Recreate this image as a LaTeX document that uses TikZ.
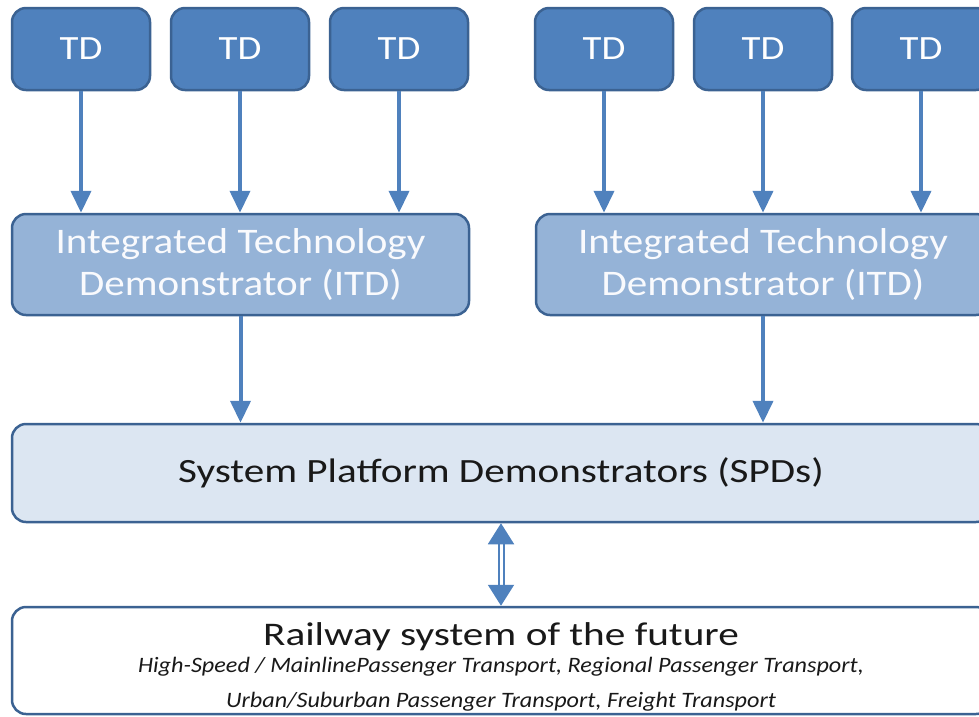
\documentclass[tikz,border=0pt]{standalone}
\usepackage{fontspec}
\setmainfont{Carlito}
\newfontfamily\tdfont[FakeStretch=1.14]{Carlito}
\newfontfamily\itdfont[FakeStretch=1.14]{Carlito}
\newfontfamily\spdfont[FakeStretch=1.21]{Carlito}
\newfontfamily\railfont[FakeStretch=1.25]{Carlito}
\newfontfamily\subfont[FakeStretch=1.10]{Carlito}
\usetikzlibrary{arrows.meta}

\definecolor{tdblue}{HTML}{4F81BD}
\definecolor{itdblue}{HTML}{95B3D7}
\definecolor{spdblue}{HTML}{DCE6F2}
\definecolor{edgeblue}{HTML}{3B6292}

\tikzset{
  tdbox/.style={draw=edgeblue, line width=2.5pt, rounded corners=14pt, fill=tdblue,
    minimum width=138pt, minimum height=82pt, inner sep=0pt, text=white,
    font=\tdfont\fontsize{34}{40}\selectfont},
  itdbox/.style={draw=edgeblue, line width=2.5pt, rounded corners=14pt, fill=itdblue,
    minimum height=101pt, inner sep=0pt, text=white!94!itdblue, align=center,
    font=\itdfont\fontsize{36}{42}\selectfont},
  spdbox/.style={draw=edgeblue, line width=2.5pt, rounded corners=14pt, fill=spdblue,
    minimum width=978pt, minimum height=98pt, inner sep=0pt, text=black!90,
    font=\spdfont\fontsize{34}{40}\selectfont},
  railbox/.style={draw=edgeblue, line width=2.5pt, rounded corners=14pt, fill=white,
    minimum width=978pt, minimum height=107pt, inner sep=0pt},
  railtext/.style={anchor=base, inner sep=0pt, text=black!90},
  feed/.style={draw=tdblue, line width=4pt, -{Triangle[width=20pt,length=22pt]}},
  link/.style={draw=tdblue, double=white, double distance=3pt, line width=2pt,
    {Triangle[width=26pt,length=21pt]}-{Triangle[width=26pt,length=21pt]}},
}

\begin{document}
\begin{tikzpicture}[x=1pt,y=-1pt]
    \useasboundingbox (0,0) rectangle (979,716);
    \clip (0,0) rectangle (979,716);

    % technology demonstrators
    \node[tdbox] (td1) at (81,49) {TD};
    \node[tdbox] (td2) at (240,49) {TD};
    \node[tdbox] (td3) at (399,49) {TD};
    \node[tdbox] (td4) at (604,49) {TD};
    \node[tdbox] (td5) at (763,49) {TD};
    \node[tdbox] (td6) at (921,49) {TD};

    % integrated demonstrators
    \node[itdbox, minimum width=457pt] (itdl) at (240.5,264.5) {Integrated Technology\\Demonstrator (ITD)};
    \node[itdbox, minimum width=454pt] (itdr) at (763,264.5) {Integrated Technology\\Demonstrator (ITD)};

    \node[spdbox] (spd) at (501,473) {System Platform Demonstrators (SPDs)};

    % railway system
    \node[railbox] (rail) at (501,660.5) {};
    \node[railtext, font=\railfont\fontsize{33}{38}\selectfont] (railtitle) at (501,645)
      {Railway system of the future};
    \node[railtext, font=\subfont\itshape\fontsize{22}{26}\selectfont] (railsub1) at (501,672)
      {High-Speed / MainlinePassenger Transport, Regional Passenger Transport,};
    \node[railtext, font=\subfont\itshape\fontsize{22}{26}\selectfont] (railsub2) at (501,707)
      {Urban/Suburban Passenger Transport, Freight Transport};

    \foreach \t in {td1,td2,td3}
      \draw[feed] (\t) -- (\t |- itdl.north);
    \foreach \t in {td4,td5,td6}
      \draw[feed] (\t) -- (\t |- itdr.north);

    \draw[feed] (itdl) -- (itdl |- spd.north);
    \draw[feed] (itdr) -- (itdr |- spd.north);

    \draw[link] (spd.south) -- (rail.north);
\end{tikzpicture}
\end{document}
